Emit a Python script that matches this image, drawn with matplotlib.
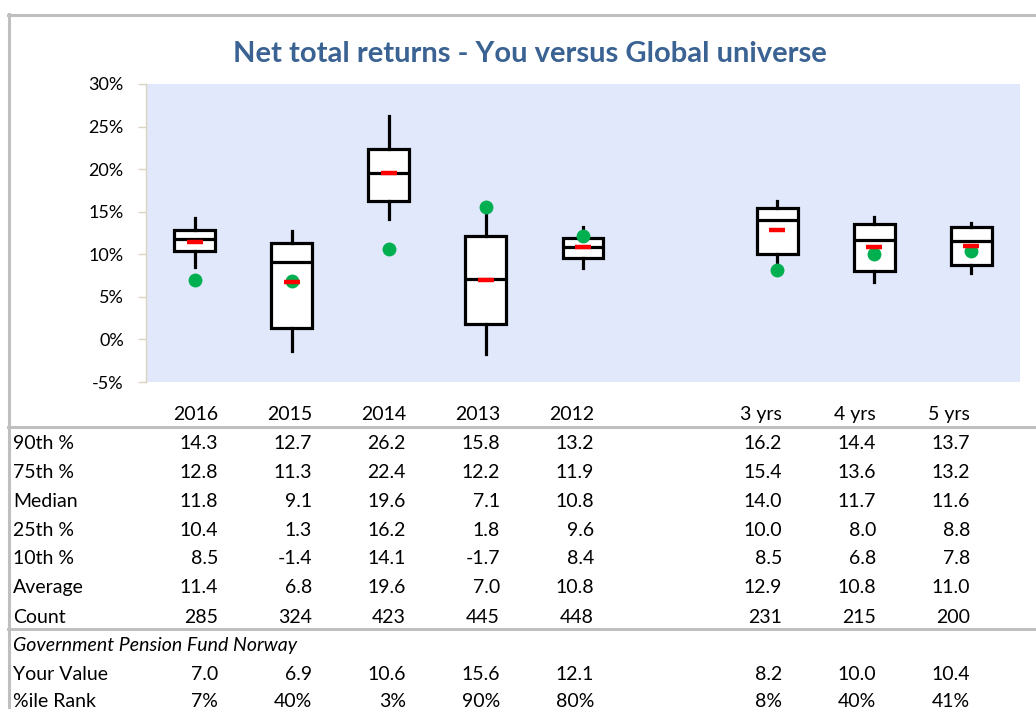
import matplotlib
matplotlib.use("Agg")
import matplotlib.pyplot as plt
from matplotlib.lines import Line2D

plt.rcParams['font.family'] = ['Lato', 'DejaVu Sans']

# ---- data ----
categories = ["2016", "2015", "2014", "2013", "2012", "", "3 yrs", "4 yrs", "5 yrs"]
p90 = [14.3, 12.7, 26.2, 15.8, 13.2, None, 16.2, 14.4, 13.7]
p75 = [12.8, 11.3, 22.4, 12.2, 11.9, None, 15.4, 13.6, 13.2]
median = [11.8, 9.1, 19.6, 7.1, 10.8, None, 14.0, 11.7, 11.6]
p25 = [10.4, 1.3, 16.2, 1.8, 9.6, None, 10.0, 8.0, 8.8]
p10 = [8.5, -1.4, 14.1, -1.7, 8.4, None, 8.5, 6.8, 7.8]
average = [11.4, 6.8, 19.6, 7.0, 10.8, None, 12.9, 10.8, 11.0]
count = [285, 324, 423, 445, 448, None, 231, 215, 200]
your_value = [7.0, 6.9, 10.6, 15.6, 12.1, None, 8.2, 10.0, 10.4]
pct_rank = ["7%", "40%", "3%", "90%", "80%", "", "8%", "40%", "41%"]
y_ticks = [-5, 0, 5, 10, 15, 20, 25, 30]
title = "Net total returns - You versus Global universe"
fund_name = "Government Pension Fund Norway"

W, H = 1036, 709
fig = plt.figure(figsize=(W / 100, H / 100), dpi=100)
fig.patch.set_facecolor("white")

def fx(px):
    return px / W

def fy(py):
    return 1 - py / H

# plot area
left, right, top, bottom = 146, 1020, 84, 382
ax = fig.add_axes([fx(left), fy(bottom), fx(right - left), (bottom - top) / H])
ax.set_facecolor("#E1E8FB")
ax.set_xlim(-0.5, 8.5)
ax.set_ylim(-5, 30)

idx = [i for i, v in enumerate(median) if v is not None]
stats = []
for i in idx:
    stats.append(dict(med=median[i], q1=p25[i], q3=p75[i],
                      whislo=p10[i], whishi=p90[i], fliers=[]))
lw = 2.3
ax.bxp(stats, positions=idx, widths=0.42, showcaps=False, showfliers=False,
       patch_artist=True,
       boxprops=dict(facecolor="white", edgecolor="black", linewidth=lw),
       whiskerprops=dict(color="black", linewidth=lw),
       medianprops=dict(color="black", linewidth=lw),
       zorder=2)

ax.plot(idx, [your_value[i] for i in idx], linestyle="none", marker="o",
        markersize=10, color="#00B050", markeredgewidth=0, zorder=4)
ax.plot(idx, [average[i] for i in idx], linestyle="none", marker="_",
        markersize=11.5, markeredgewidth=3.2, color="#FF0000", zorder=5)

ax.set_yticks(y_ticks)
ax.set_yticklabels([f"{t}%" for t in y_ticks], fontsize=13)
ax.set_xticks([])
for s in ["top", "right", "bottom"]:
    ax.spines[s].set_visible(False)
ax.spines["left"].set_color("#D9D4BE")
ax.spines["left"].set_linewidth(1.0)
ax.tick_params(axis="y", length=6, color="#D9D4BE", width=1.0, pad=10)

# title
fig.text(fx(530), fy(54), title, ha="center", va="center", fontsize=21,
         fontweight="bold", color="#3A6292")

# borders
border = "#BFBFBF"
fig.add_artist(Line2D([fx(9), fx(9)], [fy(14), fy(H)], color=border, lw=2.2))
fig.add_artist(Line2D([fx(8), fx(W)], [fy(15), fy(15)], color=border, lw=2.2))
fig.add_artist(Line2D([fx(8), fx(W)], [fy(427), fy(427)], color=border, lw=2.2))
fig.add_artist(Line2D([fx(8), fx(W)], [fy(629), fy(629)], color=border, lw=2.2))

# table
col_right = [218 + 94 * k for k in range(9)]
fs = 14

def row(ypx, label, values, italic=False):
    base = fy(ypx + 7)
    if label:
        fig.text(fx(13), base, label, ha="left", va="baseline", fontsize=fs,
                 style="italic" if italic else "normal")
    if values is not None:
        for k, v in enumerate(values):
            if v is None or v == "":
                continue
            fig.text(fx(col_right[k]), base, v, ha="right", va="baseline", fontsize=fs)

def fmt(vals):
    return [None if v is None else f"{v:.1f}" for v in vals]

row(413, "", categories)
row(442, "90th %", fmt(p90))
row(471, "75th %", fmt(p75))
row(500, "Median", fmt(median))
row(529, "25th %", fmt(p25))
row(557, "10th %", fmt(p10))
row(586, "Average", fmt(average))
row(616, "Count", [None if c is None else str(c) for c in count])
row(644, fund_name, None, italic=True)
row(673, "Your Value", fmt(your_value))
row(700, "%ile Rank", pct_rank)

fig.savefig("out.png", dpi=100)
